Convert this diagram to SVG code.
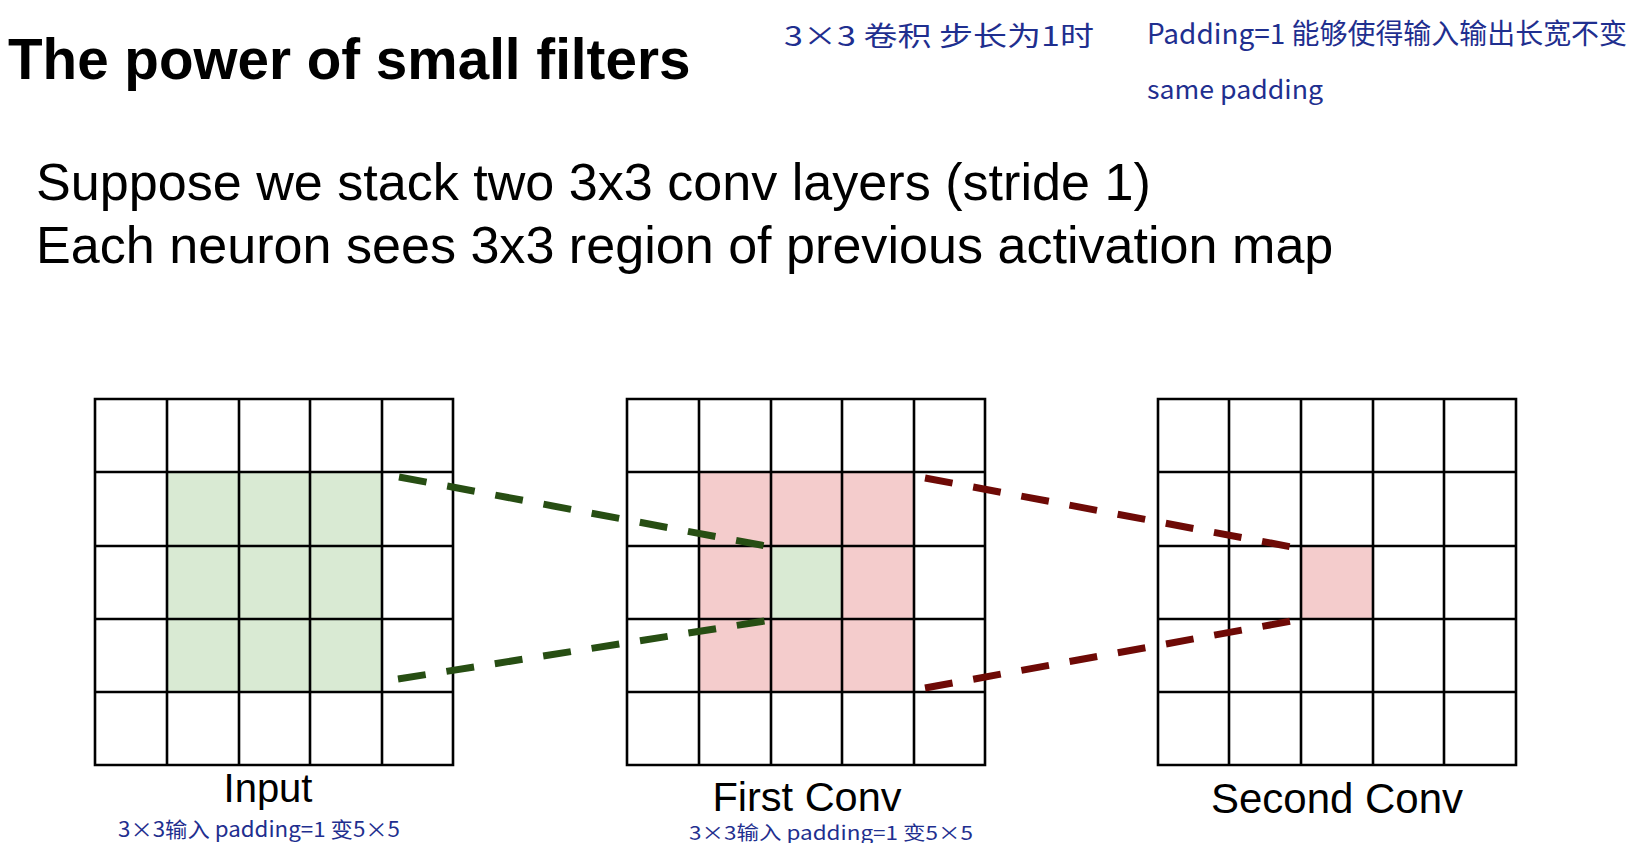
<svg xmlns="http://www.w3.org/2000/svg" width="1650" height="843" viewBox="0 0 1650 843">
<style>
.t{font-family:"Liberation Sans",Arial,sans-serif;fill:#000}
.h{font-family:"Noto Sans CJK SC","Liberation Sans",sans-serif;fill:#1f2f8f;font-weight:400}
.grid{fill:none;stroke:#000;stroke-width:2.6}
.gf{fill:#d9ead3}
.rf{fill:#f4cccc}
.gd{stroke:#274e13;stroke-width:7;stroke-dasharray:28 21;fill:none}
.rd{stroke:#6e0a06;stroke-width:7;stroke-dasharray:28 21;fill:none}
</style>
<rect width="1650" height="843" fill="#fff"/>
<g id="title"><text class="t" x="8" y="79" font-size="56.6" font-weight="bold">The power of small filters</text></g>
<g id="body">
<text class="t" x="36" y="200" font-size="52.1">Suppose we stack two 3x3 conv layers (stride 1)</text>
<text class="t" x="36" y="263" font-size="52.1">Each neuron sees 3x3 region of previous activation map</text>
</g>
<g id="notes">
<text class="h" x="784" y="46" font-size="27" textLength="310" lengthAdjust="spacingAndGlyphs">3×3 卷积  步长为1时</text>
<text class="h" x="1147" y="44" font-size="28" textLength="480" lengthAdjust="spacingAndGlyphs">Padding=1 能够使得输入输出长宽不变</text>
<text class="h" x="1147" y="99" font-size="26" textLength="176" lengthAdjust="spacingAndGlyphs">same padding</text>
<text class="h" x="118" y="837" font-size="21" textLength="282" lengthAdjust="spacingAndGlyphs">3×3输入  padding=1  变5×5</text>
<text class="h" x="689" y="840" font-size="19" textLength="284" lengthAdjust="spacingAndGlyphs">3×3输入  padding=1  变5×5</text>
</g>
<g id="input">
<rect class="gf" x="167" y="472" width="215" height="220"/>
<path class="grid" d="M95 399H453V765H95Z M167 399V765 M239 399V765 M310 399V765 M382 399V765 M95 472H453 M95 546H453 M95 619H453 M95 692H453"/>
<text class="t" x="268" y="802" font-size="40" text-anchor="middle">Input</text>
</g>
<g id="first-conv">
<rect class="rf" x="699" y="472" width="215" height="220"/>
<rect class="gf" x="771" y="546" width="71" height="73"/>
<path class="grid" d="M627 399H985V765H627Z M699 399V765 M771 399V765 M842 399V765 M914 399V765 M627 472H985 M627 546H985 M627 619H985 M627 692H985"/>
<text class="t" x="807" y="811" font-size="41.5" text-anchor="middle">First Conv</text>
</g>
<g id="second-conv">
<rect class="rf" x="1301" y="546" width="72" height="73"/>
<path class="grid" d="M1158 399H1516V765H1158Z M1229 399V765 M1301 399V765 M1373 399V765 M1444 399V765 M1158 472H1516 M1158 546H1516 M1158 619H1516 M1158 692H1516"/>
<text class="t" x="1337" y="813" font-size="42" text-anchor="middle">Second Conv</text>
</g>
<g id="connectors">
<line class="gd" x1="399" y1="477" x2="771" y2="547"/>
<line class="gd" x1="398" y1="679" x2="771" y2="620"/>
<line class="rd" x1="925" y1="478" x2="1297" y2="548"/>
<line class="rd" x1="925" y1="688" x2="1297" y2="620"/>
</g>
</svg>
